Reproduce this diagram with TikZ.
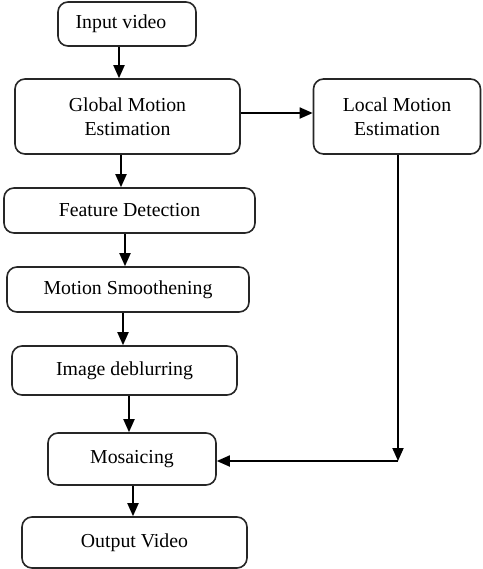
\documentclass[tikz,border=0pt]{standalone}
\usepackage{fontspec}
\setmainfont{Liberation Serif}
\usetikzlibrary{arrows.meta}
\begin{document}
\begin{tikzpicture}[x=0.5pt,y=-0.5pt,
  box/.style={draw=black!85, line width=0.8pt, rounded corners=5pt, align=center,
    font=\fontsize{9.9pt}{12pt}\selectfont, inner sep=0pt},
  arr/.style={line width=0.9pt, -{Triangle[length=6.5pt,width=5.5pt]}}]
\useasboundingbox (0,0) rectangle (483,569);
\node[box, minimum width=69pt, minimum height=22pt] (in) at (127,24) {Input video\hspace*{6pt}};
\node[box, minimum width=112.5pt, minimum height=37.5pt] (gme) at (127.5,116.5) {Global Motion\\Estimation};
\node[box, minimum width=83.5pt, minimum height=37.5pt] (lme) at (397,116.5) {Local Motion\\Estimation};
\node[box, minimum width=125.5pt, minimum height=22.5pt] (fd) at (129.5,210.5) {Feature Detection};
\node[box, minimum width=121pt, minimum height=22.5pt] (ms) at (128,289.5) {Motion Smoothening};
\node[box, minimum width=112.5pt, minimum height=24.5pt] (id) at (124.5,370.5) {Image deblurring};
\node[box, minimum width=84pt, minimum height=26pt] (mos) at (132,459) {Mosaicing};
\node[box, minimum width=112.5pt, minimum height=25.5pt] (out) at (134.5,542.5) {Output Video};
\coordinate (c) at (398,461);
\draw[arr] (in.south -| 119,0) -- (gme.north -| 119,0);
\draw[arr] (gme.south -| 121,0) -- (fd.north -| 121,0);
\draw[arr] (fd.south -| 125,0) -- (ms.north -| 125,0);
\draw[arr] (ms.south -| 123,0) -- (id.north -| 123,0);
\draw[arr] (id.south -| 129,0) -- (mos.north -| 129,0);
\draw[arr] (mos.south -| 133,0) -- (out.north -| 133,0);
\draw[arr] (gme.east |- 0,113) -- (lme.west |- 0,113);
\draw[arr] (lme.south -| c) -- (c);
\draw[arr] (c) -- (mos.east |- c);
\end{tikzpicture}
\end{document}
